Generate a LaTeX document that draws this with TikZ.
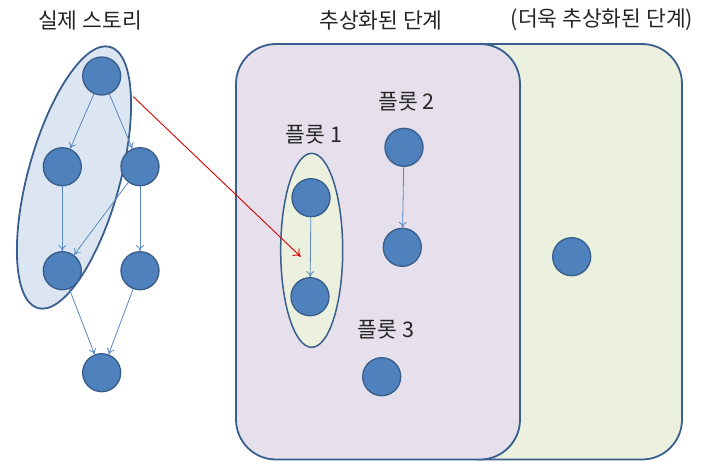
\documentclass[tikz,border=0pt]{standalone}
\usepackage{fontspec}
\newfontfamily\kr{Noto Sans CJK KR}
\usetikzlibrary{shapes.geometric,arrows.meta}
\definecolor{nodefill}{HTML}{4F81BD}
\definecolor{nodeline}{HTML}{385D8A}
\definecolor{edgeblue}{HTML}{5A88C2}
\definecolor{ellfill}{HTML}{DCE6F2}
\definecolor{purplefill}{HTML}{E5E0EC}
\definecolor{greenfill}{HTML}{EBF1DE}
\definecolor{boxline}{HTML}{3A5F8E}
\tikzset{
  dot/.style={circle, draw=nodeline, fill=nodefill, line width=1.3pt, minimum size=38pt, inner sep=0pt},
  edge/.style={draw=edgeblue, line width=0.8pt, -{To[length=6pt,width=8pt]}},
  lbl/.style={font=\kr\fontsize{21.5}{24}\selectfont, inner sep=0pt, text=black!85},
  panel/.style={draw=boxline, line width=1.8pt, rounded corners=40pt},
}
\begin{document}
\begin{tikzpicture}[x=1pt,y=-1pt]
\useasboundingbox (0,0) rectangle (715,461);
\clip (0,0) rectangle (715,461);
% panels
\draw[panel, fill=greenfill] (440,44) rectangle (682,459.5);
\draw[panel, fill=purplefill] (236,44) rectangle (520,459.5);
% group ellipses
\node[ellipse, draw=boxline, fill=ellfill, line width=1.8pt, rotate=74.6, minimum width=271pt, minimum height=92pt, inner sep=0pt] (grp) at (74,177.5) {};
\node[ellipse, draw=boxline, fill=greenfill, line width=1.5pt, minimum width=62pt, minimum height=194pt, inner sep=0pt] (p1grp) at (311.7,250.3) {};
% titles
\node[lbl] (t1) at (90,20) {실제 스토리};
\node[lbl] (t2) at (381,20) {추상화된 단계};
\node[lbl] (t3) at (602,20) {(더욱 추상화된 단계)};
\node[lbl] (l1) at (314,135) {플롯 1};
\node[lbl] (l2) at (406.5,101.7) {플롯 2};
\node[lbl] (l3) at (386,330) {플롯 3};
% story nodes
\node[dot] (a) at (101.7,76) {};
\node[dot] (b1) at (62.3,166.7) {};
\node[dot] (b2) at (140,166.7) {};
\node[dot] (c1) at (62.3,270.7) {};
\node[dot] (c2) at (140,270.7) {};
\node[dot] (d) at (101.7,372.7) {};
% plot nodes
\node[dot] (p1a) at (311,197.7) {};
\node[dot] (p1b) at (310,296.7) {};
\node[dot] (p2a) at (404,147.3) {};
\node[dot] (p2b) at (402.3,247.3) {};
\node[dot] (p3) at (381.7,376.7) {};
\node[dot] (g) at (571.7,256.7) {};
% edges
\draw[edge] (a) -- (b1);
\draw[edge] (a) -- (b2);
\draw[edge] (b1) -- (c1);
\draw[edge] (b2) -- (c1);
\draw[edge] (b2) -- (c2);
\draw[edge] (c1) -- (d);
\draw[edge] (c2) -- (d);
\draw[edge] (p1a) -- (p1b);
\draw[edge] (p2a) -- (p2b);
% red mapping arrow
\coordinate (rs) at (133.3,96.7);
\coordinate (re) at (300.7,256.7);
\draw[red!85!black, line width=0.9pt, -{To[length=7pt,width=10pt]}] (rs) -- (re);
\end{tikzpicture}
\end{document}
